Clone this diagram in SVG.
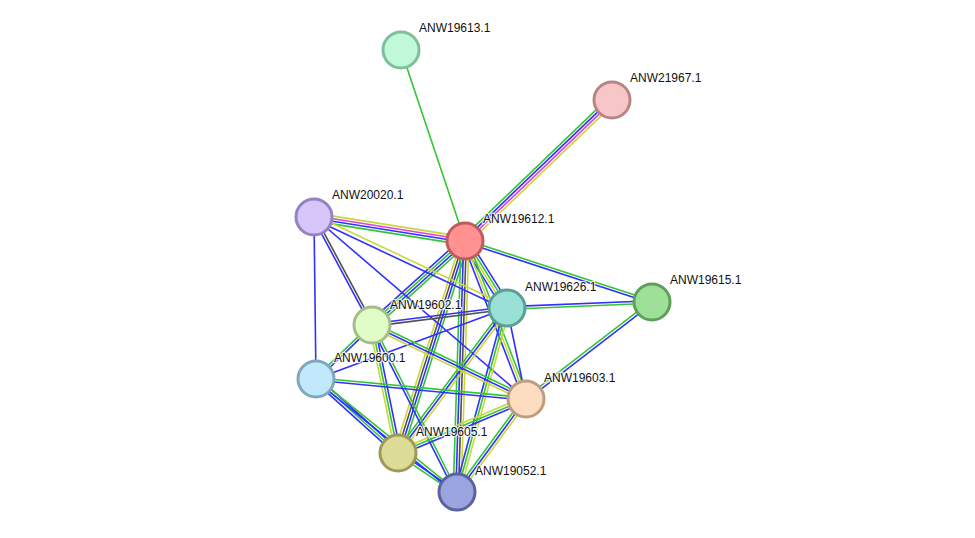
<svg xmlns="http://www.w3.org/2000/svg" width="975" height="538" viewBox="0 0 975 538">
<style>
line{stroke-width:1.6;fill:none}
.g{stroke:#33c633}
.b{stroke:#3030ff}
.y{stroke:#c8d83c}
.m{stroke:#e040e0}
.k{stroke:#505050}
circle{stroke-width:3}
text{font-family:"Liberation Sans",Arial,sans-serif;font-size:12px;fill:#111;stroke:#fff;stroke-width:2.5;stroke-opacity:0.8;paint-order:stroke;stroke-linejoin:round}
</style>
<rect width="975" height="538" fill="#fff"/>
<g id="edges">
<g transform="translate(465,241) rotate(-108.53)"><line x1="0" x2="201.4" y1="0" y2="0" class="g"/></g>
<g transform="translate(465,241) rotate(-43.8)"><line x1="0" x2="203.7" y1="-3.9" y2="-3.9" class="g"/><line x1="0" x2="203.7" y1="-1.3" y2="-1.3" class="b"/><line x1="0" x2="203.7" y1="1.3" y2="1.3" class="m"/><line x1="0" x2="203.7" y1="3.9" y2="3.9" class="y"/></g>
<g transform="translate(314,217) rotate(9.03)"><line x1="0" x2="152.9" y1="-3.9" y2="-3.9" class="y"/><line x1="0" x2="152.9" y1="-1.3" y2="-1.3" class="m"/><line x1="0" x2="152.9" y1="1.3" y2="1.3" class="b"/><line x1="0" x2="152.9" y1="3.9" y2="3.9" class="g"/></g>
<g transform="translate(465,241) rotate(18.07)"><line x1="0" x2="196.7" y1="-1.3" y2="-1.3" class="g"/><line x1="0" x2="196.7" y1="1.3" y2="1.3" class="b"/></g>
<g transform="translate(465,241) rotate(57.9)"><line x1="0" x2="79.1" y1="-3.9" y2="-3.9" class="b"/><line x1="0" x2="79.1" y1="-1.3" y2="-1.3" class="g"/><line x1="0" x2="79.1" y1="1.3" y2="1.3" class="y"/><line x1="0" x2="79.1" y1="3.9" y2="3.9" class="b"/></g>
<g transform="translate(465,241) rotate(68.9)"><line x1="0" x2="169.4" y1="-2.6" y2="-2.6" class="g"/><line x1="0" x2="169.4" y1="0" y2="0" class="y"/><line x1="0" x2="169.4" y1="2.6" y2="2.6" class="b"/></g>
<g transform="translate(465,241) rotate(137.9)"><line x1="0" x2="125.3" y1="-3.9" y2="-3.9" class="g"/><line x1="0" x2="125.3" y1="-1.3" y2="-1.3" class="b"/><line x1="0" x2="125.3" y1="1.3" y2="1.3" class="g"/><line x1="0" x2="125.3" y1="3.9" y2="3.9" class="b"/></g>
<g transform="translate(465,241) rotate(107.5)"><line x1="0" x2="222.3" y1="-3.9" y2="-3.9" class="g"/><line x1="0" x2="222.3" y1="-1.3" y2="-1.3" class="b"/><line x1="0" x2="222.3" y1="1.3" y2="1.3" class="k"/><line x1="0" x2="222.3" y1="3.9" y2="3.9" class="y"/></g>
<g transform="translate(465,241) rotate(91.8)"><line x1="0" x2="252.1" y1="-3.9" y2="-3.9" class="y"/><line x1="0" x2="252.1" y1="-1.3" y2="-1.3" class="k"/><line x1="0" x2="252.1" y1="1.3" y2="1.3" class="b"/><line x1="0" x2="252.1" y1="3.9" y2="3.9" class="g"/></g>
<g transform="translate(314,217) rotate(61.76)"><line x1="0" x2="122.6" y1="-1.3" y2="-1.3" class="k"/><line x1="0" x2="122.6" y1="1.3" y2="1.3" class="b"/></g>
<g transform="translate(314,217) rotate(89.3)"><line x1="0" x2="162" y1="0" y2="0" class="b"/></g>
<g transform="translate(314,217) rotate(25.24)"><line x1="0" x2="213.4" y1="-2" y2="-2" class="y"/><line x1="0" x2="213.4" y1="2" y2="2" class="b"/></g>
<g transform="translate(314,217) rotate(40.65)"><line x1="0" x2="279.4" y1="0" y2="0" class="b"/></g>
<g transform="translate(507,308) rotate(-2.37)"><line x1="0" x2="145.1" y1="-1.3" y2="-1.3" class="b"/><line x1="0" x2="145.1" y1="1.3" y2="1.3" class="g"/></g>
<g transform="translate(507,308) rotate(172.8)"><line x1="0" x2="136.1" y1="-1.3" y2="-1.3" class="k"/><line x1="0" x2="136.1" y1="1.3" y2="1.3" class="b"/></g>
<g transform="translate(507,308) rotate(159.6)"><line x1="0" x2="203.8" y1="0" y2="0" class="b"/></g>
<g transform="translate(507,308) rotate(78.2)"><line x1="0" x2="93" y1="0" y2="0" class="b"/></g>
<g transform="translate(507,308) rotate(126.9)"><line x1="0" x2="181.4" y1="-2.6" y2="-2.6" class="y"/><line x1="0" x2="181.4" y1="0" y2="0" class="b"/><line x1="0" x2="181.4" y1="2.6" y2="2.6" class="g"/></g>
<g transform="translate(507,308) rotate(105.1)"><line x1="0" x2="191.6" y1="-2.6" y2="-2.6" class="y"/><line x1="0" x2="191.6" y1="0" y2="0" class="g"/><line x1="0" x2="191.6" y1="2.6" y2="2.6" class="b"/></g>
<g transform="translate(652,302) rotate(142.4)"><line x1="0" x2="159" y1="-1.3" y2="-1.3" class="b"/><line x1="0" x2="159" y1="1.3" y2="1.3" class="g"/></g>
<g transform="translate(372,325) rotate(136)"><line x1="0" x2="77.8" y1="-1.3" y2="-1.3" class="b"/><line x1="0" x2="77.8" y1="1.3" y2="1.3" class="g"/></g>
<g transform="translate(372,325) rotate(25.66)"><line x1="0" x2="170.9" y1="-2.6" y2="-2.6" class="g"/><line x1="0" x2="170.9" y1="0" y2="0" class="b"/><line x1="0" x2="170.9" y1="2.6" y2="2.6" class="y"/></g>
<g transform="translate(372,325) rotate(78.5)"><line x1="0" x2="130.6" y1="-2.6" y2="-2.6" class="b"/><line x1="0" x2="130.6" y1="0" y2="0" class="g"/><line x1="0" x2="130.6" y1="2.6" y2="2.6" class="y"/></g>
<g transform="translate(372,325) rotate(63.2)"><line x1="0" x2="188.3" y1="-1.3" y2="-1.3" class="g"/><line x1="0" x2="188.3" y1="1.3" y2="1.3" class="b"/></g>
<g transform="translate(316,379) rotate(5.44)"><line x1="0" x2="210.95" y1="-1.3" y2="-1.3" class="g"/><line x1="0" x2="210.95" y1="1.3" y2="1.3" class="b"/></g>
<g transform="translate(316,379) rotate(42.06)"><line x1="0" x2="110.5" y1="-2.6" y2="-2.6" class="b"/><line x1="0" x2="110.5" y1="0" y2="0" class="g"/><line x1="0" x2="110.5" y1="2.6" y2="2.6" class="b"/></g>
<g transform="translate(316,379) rotate(38.96)"><line x1="0" x2="181.3" y1="-1.3" y2="-1.3" class="g"/><line x1="0" x2="181.3" y1="1.3" y2="1.3" class="b"/></g>
<g transform="translate(526,399) rotate(157.1)"><line x1="0" x2="138.9" y1="-2.6" y2="-2.6" class="b"/><line x1="0" x2="138.9" y1="0" y2="0" class="g"/><line x1="0" x2="138.9" y1="2.6" y2="2.6" class="y"/></g>
<g transform="translate(526,399) rotate(126.3)"><line x1="0" x2="116.6" y1="-2.6" y2="-2.6" class="y"/><line x1="0" x2="116.6" y1="0" y2="0" class="b"/><line x1="0" x2="116.6" y1="2.6" y2="2.6" class="g"/></g>
<g transform="translate(398,453) rotate(34.1)"><line x1="0" x2="71.3" y1="-1.3" y2="-1.3" class="b"/><line x1="0" x2="71.3" y1="1.3" y2="1.3" class="g"/></g>
</g>
<g id="ANW19613.1"><circle cx="401" cy="50" r="18" fill="#c0f8da" stroke="#7fbf9a"/><text x="419" y="32">ANW19613.1</text></g>
<g id="ANW21967.1"><circle cx="612" cy="100" r="18" fill="#f7c7c7" stroke="#b88585"/><text x="630" y="82">ANW21967.1</text></g>
<g id="ANW20020.1"><circle cx="314" cy="217" r="18" fill="#d6c6fa" stroke="#9482c2"/><text x="332" y="199">ANW20020.1</text></g>
<g id="ANW19612.1"><circle cx="465" cy="241" r="18" fill="#ff9191" stroke="#c05b5b"/><text x="483" y="223">ANW19612.1</text></g>
<g id="ANW19626.1"><circle cx="507" cy="308" r="18" fill="#99e0d6" stroke="#5b9e96"/><text x="525" y="291">ANW19626.1</text></g>
<g id="ANW19615.1"><circle cx="652" cy="302" r="18" fill="#9ee097" stroke="#5f9f5a"/><text x="670" y="284">ANW19615.1</text></g>
<g id="ANW19602.1"><circle cx="372" cy="325" r="18" fill="#e0fcc7" stroke="#a5bd88"/><text x="390" y="309">ANW19602.1</text></g>
<g id="ANW19600.1"><circle cx="316" cy="379" r="18" fill="#c1e8fb" stroke="#7fa7bd"/><text x="334" y="362">ANW19600.1</text></g>
<g id="ANW19603.1"><circle cx="526" cy="399" r="18" fill="#fddcbf" stroke="#be9d80"/><text x="544" y="382">ANW19603.1</text></g>
<g id="ANW19605.1"><circle cx="398" cy="453" r="18" fill="#dcdc96" stroke="#9b9b57"/><text x="416" y="436">ANW19605.1</text></g>
<g id="ANW19052.1"><circle cx="457" cy="492" r="18" fill="#9aa4df" stroke="#5a639f"/><text x="475" y="475">ANW19052.1</text></g>
</svg>
